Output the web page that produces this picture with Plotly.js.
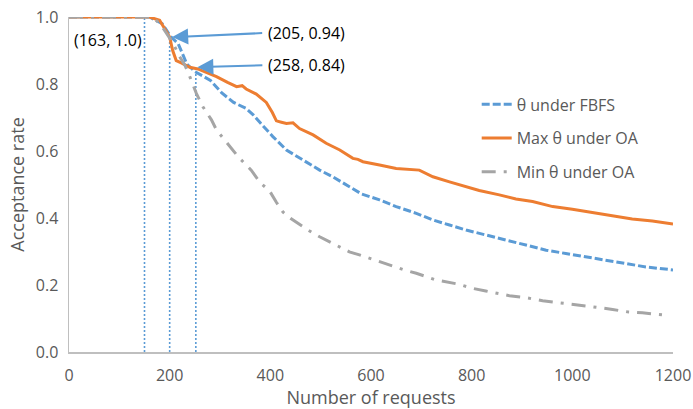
<!DOCTYPE html>
<html>
<head>
<meta charset="utf-8">
<script src="https://cdn.plot.ly/plotly-3.0.1.min.js"></script>
<style>
  html, body { margin: 0; padding: 0; background: #fff; }
  #chart { width: 693px; height: 409px; }
</style>
</head>
<body>
<div id="chart"></div>
<script>
// ---- data ----
const seriesNames = ['θ under FBFS', 'Max θ under OA', 'Min θ under OA'];

const fbfsX = [0, 160, 185, 203, 217, 224, 234, 250, 267, 281, 303, 327, 352, 366, 380, 405, 432, 465, 498, 524, 551, 581, 617, 650, 690, 723, 756, 789, 829, 868, 908, 948, 987, 1027, 1067, 1106, 1146, 1200];
const fbfsY = [1.0, 1.0, 0.98, 0.94, 0.92, 0.896, 0.86, 0.837, 0.822, 0.811, 0.774, 0.745, 0.727, 0.708, 0.684, 0.643, 0.603, 0.573, 0.543, 0.523, 0.499, 0.472, 0.454, 0.434, 0.414, 0.394, 0.379, 0.364, 0.349, 0.334, 0.319, 0.304, 0.294, 0.284, 0.275, 0.265, 0.254, 0.245];

const maxX = [0, 160, 180, 190, 200, 206, 213, 223, 240, 256, 273, 293, 315, 333, 344, 352, 372, 392, 404, 412, 422, 432, 445, 458, 485, 511, 538, 564, 574, 584, 617, 650, 696, 723, 756, 789, 815, 855, 888, 921, 961, 1000, 1040, 1080, 1119, 1159, 1200];
const maxY = [1.0, 1.0, 0.99, 0.967, 0.94, 0.90, 0.87, 0.863, 0.85, 0.845, 0.835, 0.822, 0.805, 0.792, 0.795, 0.785, 0.77, 0.745, 0.715, 0.69, 0.686, 0.682, 0.684, 0.667, 0.648, 0.623, 0.603, 0.578, 0.575, 0.568, 0.558, 0.548, 0.543, 0.523, 0.508, 0.493, 0.482, 0.469, 0.457, 0.449, 0.434, 0.426, 0.416, 0.406, 0.397, 0.391, 0.382];

const minX = [0, 165, 181, 194, 207, 220, 230, 240, 253, 266, 283, 293, 319, 336, 352, 362, 380, 398, 412, 425, 440, 475, 498, 524, 557, 577, 597, 617, 643, 670, 690, 729, 772, 802, 828, 875, 908, 941, 974, 1007, 1040, 1080, 1109, 1139, 1185];
const minY = [1.0, 1.0, 0.98, 0.951, 0.921, 0.881, 0.857, 0.822, 0.772, 0.732, 0.693, 0.663, 0.613, 0.583, 0.558, 0.543, 0.505, 0.482, 0.447, 0.418, 0.399, 0.364, 0.344, 0.324, 0.299, 0.29, 0.28, 0.27, 0.255, 0.243, 0.235, 0.215, 0.203, 0.19, 0.182, 0.168, 0.162, 0.153, 0.147, 0.14, 0.135, 0.127, 0.12, 0.117, 0.11];

// marked points (vertical dotted guides) and their labels
const markX = [150, 200, 252];
const markY = [1.0, 0.94, 0.83];
const markLabels = ['(163, 1.0)', '(205, 0.94)', '(258, 0.84)'];
const arrowPtX = [205, 255];
const arrowPtY = [0.94, 0.85];

const xTicks = [0, 200, 400, 600, 800, 1000, 1200];
const yTicks = [0.0, 0.2, 0.4, 0.6, 0.8, 1.0];

// ---- styles ----
const FONT = "'Open Sans', 'Noto Sans', sans-serif";
const BLUE = '#5B9BD5', ORANGE = '#ED7D31', GREY = '#A5A5A5';
const AXIS_TXT = '#595959';

const traces = [];
// guides
markX.forEach((mx, i) => {
  traces.push({
    x: [mx, mx], y: [0, markY[i]], type: 'scatter', mode: 'lines',
    line: {color: BLUE, width: 1.6, dash: '2px,2px'},
    showlegend: false, hoverinfo: 'skip'
  });
});
traces.push({
  x: fbfsX, y: fbfsY, name: seriesNames[0], type: 'scatter', mode: 'lines',
  legendgroup: 'a', line: {color: BLUE, width: 3, dash: '8px,3px'}
});
traces.push({
  x: maxX, y: maxY, name: seriesNames[1], type: 'scatter', mode: 'lines',
  legendgroup: 'b', line: {color: ORANGE, width: 3}
});
traces.push({
  x: minX, y: minY, name: seriesNames[2], type: 'scatter', mode: 'lines',
  legendgroup: 'c', line: {color: GREY, width: 3, dash: '14px,8px,3px,8px'}
});

const annotations = [
  {
    x: 6, y: 0.931, xref: 'x', yref: 'y', text: markLabels[0], showarrow: false,
    xanchor: 'left', yanchor: 'middle', font: {family: FONT, size: 16, color: '#000'}
  }
];
[1, 2].forEach((k, j) => {
  annotations.push({
    x: arrowPtX[j], y: arrowPtY[j], xref: 'x', yref: 'y',
    text: markLabels[k], showarrow: true,
    axref: 'pixel', ayref: 'pixel', ax: j === 0 ? 90 : 65, ay: j === 0 ? -4 : -2,
    xanchor: 'left', yanchor: 'middle', borderpad: 5,
    arrowcolor: BLUE, arrowwidth: 2, arrowhead: 2, arrowsize: 1.6, standoff: 0,
    font: {family: FONT, size: 16, color: '#000'}
  });
});

const layout = {
  width: 693, height: 409,
  margin: {l: 69, r: 20, t: 17, b: 57},
  paper_bgcolor: '#fff', plot_bgcolor: '#fff',
  font: {family: FONT, color: AXIS_TXT},
  showlegend: true,
  legend: {
    x: 0.675, y: 0.79, xanchor: 'left', yanchor: 'top',
    traceorder: 'grouped', tracegroupgap: 10,
    font: {family: FONT, size: 16, color: AXIS_TXT},
    bgcolor: 'rgba(0,0,0,0)'
  },
  xaxis: {
    range: [0, 1200], tickvals: xTicks, ticktext: xTicks.map(String),
    showgrid: false, zeroline: false, showline: true, linecolor: '#BFBFBF', linewidth: 1.5,
    ticks: '', ticklabelstandoff: 8,
    tickfont: {family: FONT, size: 16, color: AXIS_TXT},
    title: {text: 'Number of requests', font: {family: FONT, size: 18, color: AXIS_TXT}, standoff: 9}
  },
  yaxis: {
    range: [0, 1.0], tickvals: yTicks, ticktext: yTicks.map(v => v.toFixed(1)),
    showgrid: false, zeroline: false, showline: true, linecolor: '#BFBFBF', linewidth: 1.5,
    ticks: '', ticklabelstandoff: 6,
    tickfont: {family: FONT, size: 16, color: AXIS_TXT},
    title: {text: 'Acceptance rate', font: {family: FONT, size: 18, color: AXIS_TXT}, standoff: 6}
  },
  annotations: annotations
};

Plotly.newPlot('chart', traces, layout, {displayModeBar: false, staticPlot: true});
</script>
</body>
</html>
